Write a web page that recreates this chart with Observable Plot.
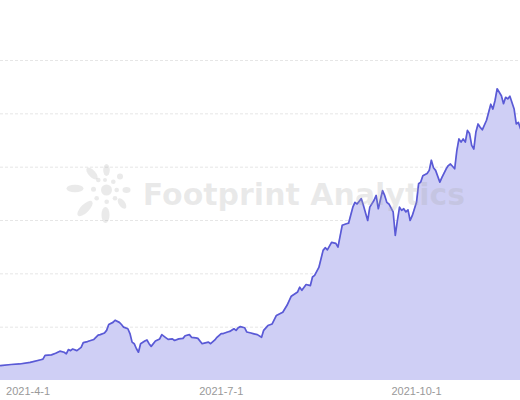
<!DOCTYPE html>
<html>
<head>
<meta charset="utf-8">
<script src="https://cdn.jsdelivr.net/npm/d3@7"></script>
<script src="https://cdn.jsdelivr.net/npm/@observablehq/plot@0.6"></script>
<style>
  html, body { margin: 0; padding: 0; background: #fff; }
  #wrap { position: relative; width: 520px; height: 400px; font-family: "Liberation Sans", Arial, sans-serif; }
  #wm { position: absolute; left: 0; top: 0; width: 520px; height: 400px; pointer-events: none; }
</style>
</head>
<body>
<div id="wrap">
  <div id="chart"></div>
  <svg id="wm" width="520" height="400">
    <g fill="rgb(170,170,170)" fill-opacity="0.25">
      <circle cx="106.5" cy="190" r="5.5"/>
      <ellipse cx="75" cy="188.5" rx="8.5" ry="3.8"/>
      <ellipse cx="92" cy="173.5" rx="7.5" ry="3.5" transform="rotate(48 92 173.5)"/>
      <ellipse cx="106.5" cy="170" rx="3.3" ry="6"/>
      <circle cx="120" cy="176.5" r="3"/>
      <ellipse cx="126.5" cy="190" rx="4" ry="3"/>
      <ellipse cx="122" cy="203.5" rx="3.2" ry="6" transform="rotate(-35 122 203.5)"/>
      <ellipse cx="105.5" cy="215" rx="4" ry="8"/>
      <ellipse cx="85" cy="208.5" rx="10" ry="4.2" transform="rotate(-45 85 208.5)"/>
      <circle cx="93.5" cy="189.3" r="2.5"/>
      <circle cx="98.3" cy="180" r="2.3"/>
      <circle cx="105" cy="180" r="2"/>
      <circle cx="113.3" cy="181.7" r="2.3"/>
      <circle cx="116.7" cy="190" r="2.3"/>
      <circle cx="115" cy="198.3" r="2.3"/>
      <circle cx="106.7" cy="201.7" r="2.3"/>
      <circle cx="96.7" cy="198.3" r="2.3"/>
    </g>
    <text x="304" y="205" text-anchor="middle" font-family="'DejaVu Sans', sans-serif" font-weight="bold" font-size="30" fill="rgb(170,170,170)" fill-opacity="0.25">Footprint Analytics</text>
  </svg>
</div>
<script>
const dates = [
  "2021-03-19","2021-03-24","2021-03-28","2021-04-02","2021-04-07","2021-04-08","2021-04-09","2021-04-12","2021-04-14","2021-04-16",
  "2021-04-18","2021-04-19","2021-04-20","2021-04-21","2021-04-22","2021-04-24","2021-04-26","2021-04-27","2021-04-29","2021-05-02",
  "2021-05-04","2021-05-05","2021-05-07","2021-05-08","2021-05-09","2021-05-11","2021-05-12","2021-05-14","2021-05-15","2021-05-16",
  "2021-05-18","2021-05-19","2021-05-20","2021-05-21","2021-05-22","2021-05-23","2021-05-24","2021-05-26","2021-05-27","2021-05-28",
  "2021-05-29","2021-05-31","2021-06-02","2021-06-03","2021-06-05","2021-06-06","2021-06-08","2021-06-09","2021-06-11","2021-06-13",
  "2021-06-14","2021-06-16","2021-06-17","2021-06-19","2021-06-20","2021-06-22","2021-06-23","2021-06-25","2021-06-26","2021-06-28",
  "2021-06-29","2021-07-01","2021-07-02","2021-07-04","2021-07-05","2021-07-07","2021-07-08","2021-07-09","2021-07-10","2021-07-12",
  "2021-07-13","2021-07-15","2021-07-16","2021-07-18","2021-07-20","2021-07-21","2021-07-23","2021-07-25","2021-07-27","2021-07-30",
  "2021-08-01","2021-08-03","2021-08-06","2021-08-07","2021-08-08","2021-08-10","2021-08-12","2021-08-13","2021-08-14","2021-08-16",
  "2021-08-18","2021-08-19","2021-08-20","2021-08-22","2021-08-24","2021-08-25","2021-08-27","2021-08-29","2021-08-30","2021-09-01",
  "2021-09-02","2021-09-03","2021-09-05","2021-09-06","2021-09-08","2021-09-09","2021-09-11","2021-09-12","2021-09-13","2021-09-15",
  "2021-09-16","2021-09-17","2021-09-18","2021-09-20","2021-09-21","2021-09-22","2021-09-23","2021-09-24","2021-09-25","2021-09-26",
  "2021-09-27","2021-09-28","2021-09-29","2021-10-01","2021-10-02","2021-10-03","2021-10-04","2021-10-06","2021-10-07","2021-10-08",
  "2021-10-09","2021-10-10","2021-10-12","2021-10-13","2021-10-15","2021-10-16","2021-10-17","2021-10-19","2021-10-20","2021-10-21",
  "2021-10-22","2021-10-23","2021-10-24","2021-10-25","2021-10-26","2021-10-27","2021-10-28","2021-10-29","2021-10-30","2021-10-31",
  "2021-11-01","2021-11-03","2021-11-04","2021-11-05","2021-11-06","2021-11-07","2021-11-08","2021-11-10","2021-11-11","2021-11-12",
  "2021-11-13","2021-11-14","2021-11-16","2021-11-17","2021-11-18","2021-11-19"
];
const values = [
  0.28,0.30,0.31,0.34,0.39,0.40,0.47,0.48,0.51,0.55,
  0.53,0.50,0.58,0.56,0.59,0.56,0.62,0.71,0.73,0.77,
  0.85,0.86,0.89,0.94,1.05,1.09,1.13,1.09,1.05,1.00,
  0.97,0.88,0.72,0.69,0.60,0.53,0.69,0.74,0.76,0.69,
  0.64,0.74,0.78,0.86,0.80,0.77,0.78,0.75,0.78,0.79,
  0.84,0.86,0.81,0.80,0.79,0.69,0.70,0.72,0.69,0.76,
  0.81,0.88,0.88,0.91,0.92,0.97,0.94,0.99,1.01,0.99,
  0.91,0.89,0.88,0.86,0.81,0.94,1.03,1.06,1.22,1.28,
  1.41,1.58,1.66,1.75,1.69,1.80,1.78,1.94,1.97,2.12,
  2.44,2.49,2.45,2.59,2.57,2.50,2.91,2.94,2.95,3.25,
  3.34,3.31,3.41,3.28,3.00,3.25,3.38,3.47,3.22,3.56,
  3.47,3.34,3.31,3.16,2.72,3.00,3.25,3.19,3.22,3.16,
  3.20,3.00,3.09,3.34,3.69,3.72,3.84,3.88,3.94,4.13,
  3.99,3.94,3.72,3.81,3.97,4.03,4.06,3.97,4.31,4.53,
  4.47,4.53,4.47,4.69,4.63,4.41,4.34,4.66,4.81,4.75,
  4.70,4.88,5.03,5.18,5.09,5.25,5.47,5.34,5.19,5.31,
  5.28,5.33,5.09,4.81,4.84,4.72
];
const xTickDates = ["2021-04-01","2021-07-01","2021-10-01"];
const xTickLabels = ["2021-4-1","2021-7-1","2021-10-1"];
const yGridValues = [1,2,3,4,5,6];
const xDomain = ["2021-03-19","2021-11-19"];
const yDomain = [0, 7.125];

const data = dates.map((d, i) => ({date: new Date(d + "T00:00:00Z"), value: values[i]}));
const tickDates = xTickDates.map(d => new Date(d + "T00:00:00Z"));
const labelFor = new Map(tickDates.map((d, i) => [+d, xTickLabels[i]]));

const chart = Plot.plot({
  width: 520,
  height: 400,
  marginTop: 0,
  marginBottom: 20,
  marginLeft: 0,
  marginRight: 0,
  style: {fontFamily: "'Liberation Sans', Arial, sans-serif", background: "#fff"},
  x: {type: "utc", domain: xDomain.map(d => new Date(d + "T00:00:00Z"))},
  y: {domain: yDomain},
  marks: [
    Plot.gridY(yGridValues, {stroke: "#e6e6e6", strokeOpacity: 1, strokeDasharray: "3,2"}),
    Plot.areaY(data, {x: "date", y: "value", fill: "#cfcff5", fillOpacity: 1}),
    Plot.lineY(data, {x: "date", y: "value", stroke: "#5a5ad6", strokeWidth: 1.7}),
    Plot.axisX(tickDates, {tickSize: 0, tickPadding: 7, fontSize: 11, color: "#999", tickFormat: d => labelFor.get(+d)}),
    Plot.axisY({ticks: [], label: null})
  ]
});
document.getElementById("chart").appendChild(chart);
</script>
</body>
</html>
